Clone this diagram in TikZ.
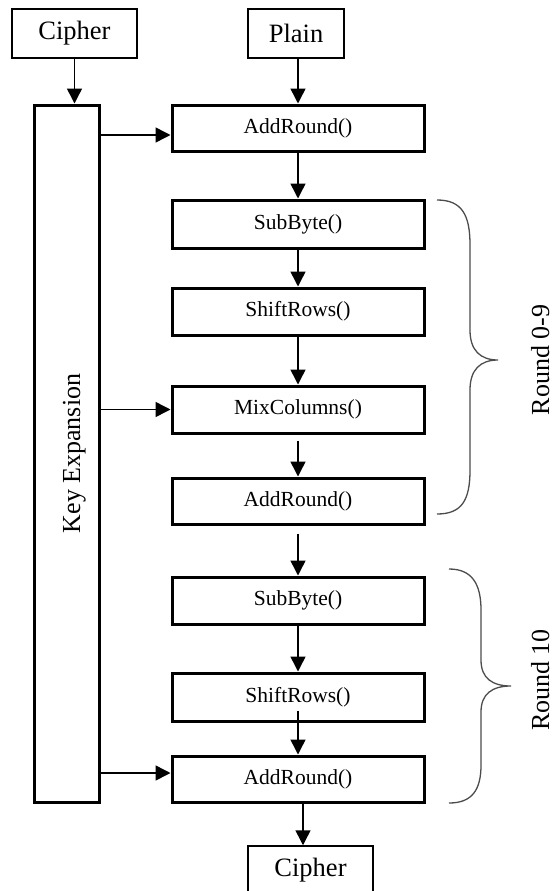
\documentclass[tikz,border=0pt]{standalone}
\usepackage{fontspec}
\setmainfont{Liberation Serif}
\usetikzlibrary{arrows.meta}
\begin{document}
\begin{tikzpicture}[x=1pt,y=-1pt,
  thinbox/.style={draw,line width=1.5pt,inner sep=0pt,font=\fontsize{26.5}{30}\selectfont},
  fbox/.style={draw,line width=3pt,inner sep=0pt,minimum width=252pt,font=\fontsize{21.5}{24}\selectfont},
  arr/.style={line width=1.5pt,-{Triangle[length=15pt,width=15pt]}},
  brace/.style={draw=black!70,line width=1.3pt},
  lbl/.style={rotate=90,anchor=base,font=\fontsize{26}{30}\selectfont,inner sep=0pt}]
\useasboundingbox (0,0) rectangle (555,891);
\clip (0,0) rectangle (555,891);
\node[thinbox,minimum width=125pt,minimum height=49pt] (cin) at (74.5,33.5) {Cipher};
\node[thinbox,minimum width=96pt,minimum height=49pt] (plain) at (296,33.5) {Plain};
\node[draw,line width=3pt,minimum width=65pt,minimum height=697pt,inner sep=0pt] (key) at (66.5,453.5) {};
\node[lbl] (keyt) at (80,453.5) {Key Expansion};
\node[fbox,minimum height=46pt] (add1) at (298,128) {AddRound()};
\node[fbox,minimum height=48pt] (sub1) at (298,224) {SubByte()};
\node[fbox,minimum height=47pt] (shift1) at (298,311.5) {ShiftRows()};
\node[fbox,minimum height=47pt] (mix) at (298,409.5) {MixColumns()};
\node[fbox,minimum height=46pt] (add2) at (298,501) {AddRound()};
\node[fbox,minimum height=47pt] (sub2) at (298,600.5) {SubByte()};
\node[fbox,minimum height=48pt] (shift2) at (298,697) {ShiftRows()};
\node[fbox,minimum height=46pt] (add3) at (298,779) {AddRound()};
\node[thinbox,minimum width=125pt,minimum height=49pt] (cout) at (310.5,870.5) {Cipher};
% arrows
\draw[arr] (cin) -- (cin |- key.north);
\draw[arr] (plain.south -| add1) -- (add1);
\draw[arr] (add1) -- (sub1);
\draw[arr] (sub1) -- (shift1);
\draw[arr] (shift1) -- (mix);
\draw[arr] ([yshift=-6pt]mix.south) -- (add2);
\draw[arr] ([yshift=-8pt]add2.south) -- (sub2);
\draw[arr] (sub2) -- (shift2);
\draw[arr] ([yshift=12pt]shift2.south) -- (add3);
\draw[arr] ([xshift=5pt]add3.south) -- ([xshift=-7.5pt]cout.north);
\draw[arr] (key.east |- 0,135) -- (add1.west |- 0,135);
\draw[arr] (key.east |- mix) -- (mix);
\draw[arr] (key.east |- 0,773) -- (add3.west |- 0,773);
% braces
\draw[brace] (437,200) .. controls (462,200) and (470,215) .. (470,245) -- (470,330)
  .. controls (470,350) and (480,360) .. (498,360)
  .. controls (480,360) and (470,370) .. (470,390) -- (470,470)
  .. controls (470,500) and (462,514) .. (437,514);
\draw[brace] (449,569) .. controls (472,569) and (481,584) .. (481,610) -- (481,660)
  .. controls (481,678) and (492,686) .. (511,686)
  .. controls (492,686) and (481,694) .. (481,712) -- (481,765)
  .. controls (481,790) and (472,803) .. (449,803);
\node[lbl] (r09) at (549,360) {Round 0-9};
\node[lbl] (r10) at (549,680) {Round 10};
\end{tikzpicture}
\end{document}
